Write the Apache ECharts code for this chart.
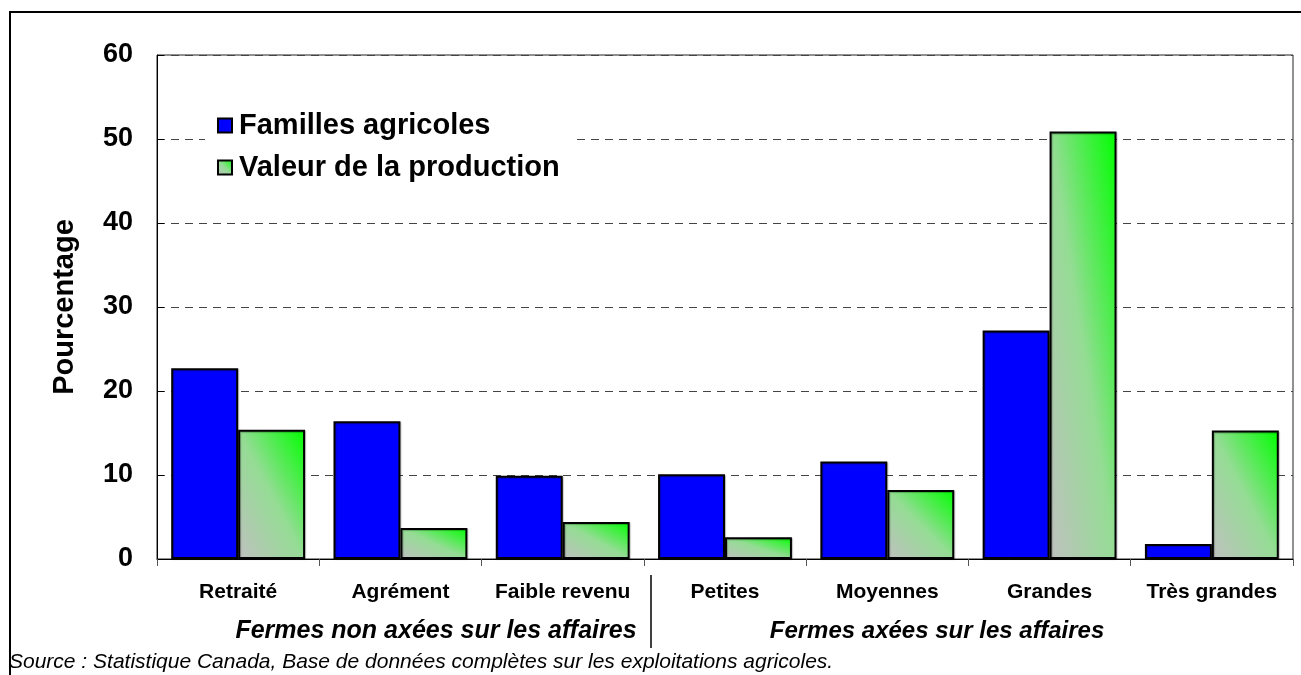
<!DOCTYPE html>
<html>
<head>
<meta charset="utf-8">
<script src="https://cdn.jsdelivr.net/npm/echarts@6/dist/echarts.min.js"></script>
<style>
html,body{margin:0;padding:0;background:#fff;}
#chart{width:1301px;height:675px;}
</style>
</head>
<body>
<div id="chart"></div>
<script>
var categories = ['Retraité', 'Agrément', 'Faible revenu', 'Petites', 'Moyennes', 'Grandes', 'Très grandes'];
var seriesNames = ['Familles agricoles', 'Valeur de la production'];
var famillesAgricoles = [22.7, 16.4, 9.9, 10.1, 11.6, 27.2, 1.8];
var valeurProduction = [15.4, 3.7, 4.4, 2.6, 8.2, 50.9, 15.3];
var yTicks = [0, 10, 20, 30, 40, 50, 60];
var groupLabels = ['Fermes non axées sur les affaires', 'Fermes axées sur les affaires'];
var yAxisTitle = 'Pourcentage';
var sourceText = 'Source : Statistique Canada, Base de données complètes sur les exploitations agricoles.';

var FONT = '"Liberation Sans", Arial, Helvetica, sans-serif';
var chart = echarts.init(document.getElementById('chart'));

var GREEN_STOPS = [
  {offset: 0, color: '#c0c0c0'},
  {offset: 0.5, color: '#94dc94'},
  {offset: 1, color: '#00ff00'}
];
// Excel-style diagonal gradient: isolines parallel to the TL-BR diagonal of each bar
function diagGradient(w, h) {
  var s = h * h + w * w;
  var a = s ? (h * h) / s : 0.5;
  var b = s ? (w * w) / s : 0.5;
  return new echarts.graphic.LinearGradient(0.5 - a, 0.5 + b, 0.5 + a, 0.5 - b, GREEN_STOPS);
}

var option = {
  backgroundColor: '#fff',
  animation: false,
  grid: {
    left: 157, right: 8, top: 55, bottom: 116,
    show: true, borderColor: '#222', borderWidth: 1, backgroundColor: 'transparent'
  },
  legend: {
    orient: 'vertical',
    left: 205, top: 103,
    padding: [8, 12, 8, 12],
    backgroundColor: '#fff',
    itemWidth: 14, itemHeight: 14, itemGap: 13,
    icon: 'rect',
    textStyle: {fontFamily: FONT, fontWeight: 'bold', fontSize: 29, color: '#000', padding: [0, 0, 0, 2]},
    data: seriesNames
  },
  xAxis: {
    type: 'category',
    data: categories,
    axisLine: {show: true, lineStyle: {color: '#000', width: 1}},
    axisTick: {show: true, length: 7, lineStyle: {color: '#555'}},
    axisLabel: {interval: 0, fontFamily: FONT, fontWeight: 'bold', fontSize: 21, color: '#000', margin: 23}
  },
  yAxis: {
    type: 'value',
    min: yTicks[0], max: yTicks[yTicks.length - 1], interval: 10,
    name: yAxisTitle,
    nameLocation: 'middle',
    nameRotate: 90,
    nameGap: 78,
    nameTextStyle: {fontFamily: FONT, fontWeight: 'bold', fontSize: 29, color: '#000'},
    axisLine: {show: true, lineStyle: {color: '#000', width: 1}},
    axisTick: {show: true, inside: true, length: 7, lineStyle: {color: '#000'}},
    axisLabel: {fontFamily: FONT, fontWeight: 'bold', fontSize: 27, color: '#000', margin: 24},
    splitLine: {show: true, lineStyle: {color: '#444', type: [8, 6], width: 1}}
  },
  series: [
    {
      name: seriesNames[0], type: 'bar', data: famillesAgricoles,
      barGap: '0%', barCategoryGap: '17.5%',
      itemStyle: {color: '#0000ff', borderColor: '#000', borderWidth: 2,
        shadowColor: 'rgba(0,0,0,0.25)', shadowOffsetX: 1, shadowOffsetY: 1, shadowBlur: 1}
    },
    {
      name: seriesNames[1], type: 'bar', data: valeurProduction,
      barGap: '0%', barCategoryGap: '17.5%',
      itemStyle: {color: diagGradient(1, 1), borderColor: '#000', borderWidth: 2,
        shadowColor: 'rgba(0,0,0,0.25)', shadowOffsetX: 1, shadowOffsetY: 1, shadowBlur: 1}
    }
  ],
  graphic: [
    {type: 'rect', z: -10, silent: true, shape: {x: 10, y: 12, width: 1300, height: 700},
      style: {fill: 'none', stroke: '#000', lineWidth: 2}},
    {type: 'line', silent: true, shape: {x1: 651, y1: 575, x2: 651, y2: 648},
      style: {stroke: '#000', lineWidth: 1.5}},
    {type: 'text', silent: true, x: 436, y: 631,
      style: {text: groupLabels[0], font: 'italic bold 25px ' + FONT, fill: '#000', align: 'center', verticalAlign: 'middle'}},
    {type: 'text', silent: true, x: 937, y: 631,
      style: {text: groupLabels[1], font: 'italic bold 24px ' + FONT, fill: '#000', align: 'center', verticalAlign: 'middle'}},
    {type: 'text', silent: true, x: 9, y: 662,
      style: {text: sourceText, font: 'italic 21px ' + FONT, fill: '#000', align: 'left', verticalAlign: 'middle'}}
  ]
};
chart.setOption(option);

// per-bar gradient using each bar's laid-out size
var gData = chart.getModel().getSeriesByIndex(1).getData();
var styled = valeurProduction.map(function (v, i) {
  var lay = gData.getItemLayout(i);
  return {value: v, itemStyle: {color: diagGradient(Math.abs(lay.width), Math.abs(lay.height))}};
});
chart.setOption({series: [{}, {data: styled}]});
</script>
</body>
</html>
